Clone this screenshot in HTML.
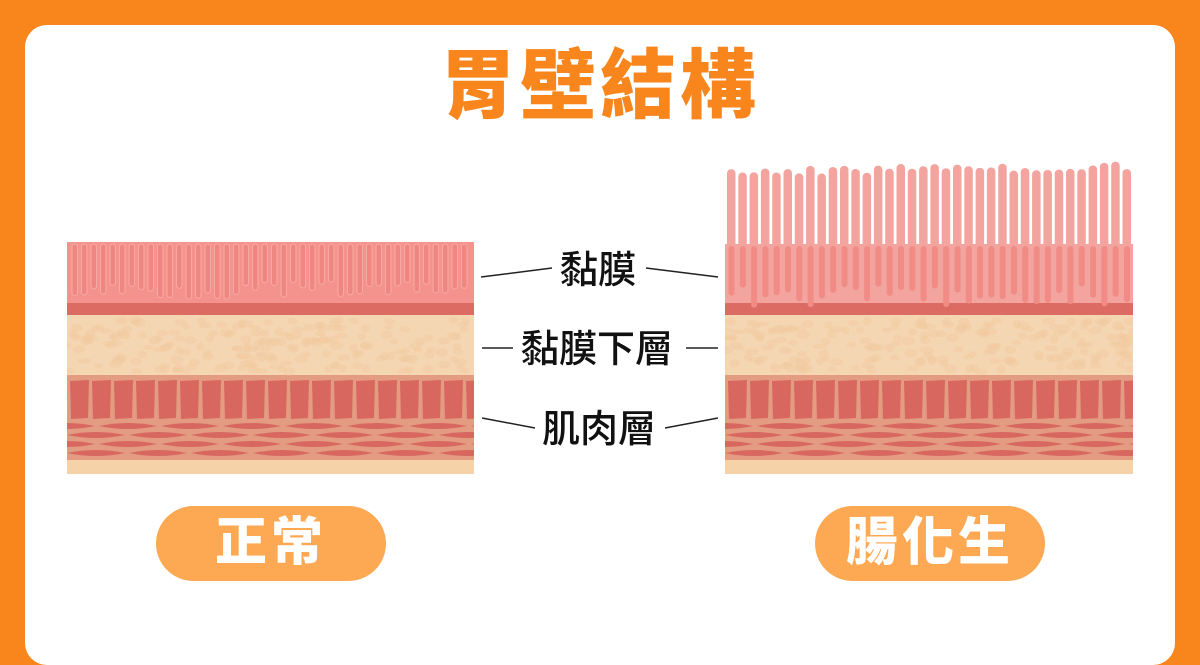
<!DOCTYPE html>
<html><head><meta charset="utf-8"><style>
html,body{margin:0;padding:0}
body{width:1200px;height:628px;background:#F8861C;position:relative;overflow:hidden;font-family:"Liberation Sans","Noto Sans CJK TC",sans-serif}
.card{position:absolute;left:25px;top:25px;width:1150px;height:640px;background:#fff;border-radius:22px}
.title{position:absolute;left:0;width:1200px;top:42px;text-align:center;font-size:76px;font-weight:900;color:#F8861C;letter-spacing:4px;line-height:90px}
.lbl{position:absolute;font-size:38px;font-weight:500;color:#111;line-height:40px;white-space:nowrap}
.pill{position:absolute;top:506px;height:75px;width:230px;border-radius:38px;background:#FDA852;color:#fff;font-size:52px;font-weight:900;text-align:center;line-height:75px;letter-spacing:4px}
svg{position:absolute;left:0;top:0}
</style></head><body>
<div class="card"></div>
<div class="title">胃壁結構</div>
<svg width="1200" height="628" id="s">
<defs>
<clipPath id="cl"><rect x="67" y="230" width="407" height="250"/></clipPath>
<clipPath id="cr"><rect x="725" y="150" width="408" height="330"/></clipPath>
</defs>
<g id="L" clip-path="url(#cl)">
<rect x="67" y="242" width="407" height="62" fill="#F4938E"/>
<rect x="67" y="303" width="407" height="13" fill="#DC6B64"/>
<rect x="67" y="315" width="407" height="61" fill="#F5D6B2"/>
<rect x="67" y="375" width="407" height="86" fill="#E39B82"/>
<rect x="67" y="460" width="407" height="14" fill="#F5D2A8"/>
</g>
<g id="R" clip-path="url(#cr)">
<rect x="725" y="244" width="408" height="60" fill="#F4A49E"/>
<rect x="725" y="303" width="408" height="13" fill="#DC6B64"/>
<rect x="725" y="315" width="408" height="61" fill="#F5D6B2"/>
<rect x="725" y="375" width="408" height="86" fill="#E39B82"/>
<rect x="725" y="460" width="408" height="14" fill="#F5D2A8"/>
</g>
<g stroke="#222" stroke-width="1.5">
<line x1="481" y1="277" x2="552" y2="268"/><line x1="646" y1="268" x2="718" y2="277"/>
<line x1="482" y1="348" x2="513" y2="348"/><line x1="686" y1="348" x2="718" y2="348"/>
<line x1="482" y1="418" x2="535" y2="428"/><line x1="665" y1="428" x2="718" y2="418"/>
</g>
</svg>
<div class="lbl" style="left:560px;top:251px">黏膜</div>
<div class="lbl" style="left:521px;top:330px">黏膜下層</div>
<div class="lbl" style="left:542px;top:410px">肌肉層</div>
<div class="pill" style="left:156px">正常</div>
<div class="pill" style="left:815px">腸化生</div>
<script>
var ns="http://www.w3.org/2000/svg";
function el(p,t,a){var e=document.createElementNS(ns,t);for(var k in a)e.setAttribute(k,a[k]);p.appendChild(e);return e;}
var seed=7;function r(){seed=(seed*9301+49297)%233280;return seed/233280;}
function layers(x0,w,g){
 for(var i=0;i<200;i++){el(g,'ellipse',{cx:x0+r()*w,cy:320+r()*52,rx:4+r()*3,ry:2.5+r()*2,fill:'#F1C9A0',opacity:0.5});}
 for(var x=x0+3;x<x0+w-6;x+=22){el(g,'path',{d:'M'+x+' 381 L'+(x+19)+' 380 L'+(x+18)+' 418 L'+(x+1)+' 419 Z',fill:'#D8685F'});}
 for(var row=0;row<4;row++){var y=426+row*9;for(var x=x0-30+(row%2)*30;x<x0+w;x+=62){
  var x1=x,x2=x+58;
  el(g,'path',{d:'M'+x1+' '+y+' Q'+((x1+x2)/2)+' '+(y-6)+' '+x2+' '+y+' Q'+((x1+x2)/2)+' '+(y+6)+' '+x1+' '+y,fill:'#D8685F'});}}
}
var L=document.getElementById('L'),R=document.getElementById('R');
layers(67,407,L);layers(725,408,R);
for(var x=72;x<470;x+=9.5){var h=38+r()*18;el(L,'rect',{x:x,y:244,width:5.5,height:h,rx:2.7,fill:'#F08682',stroke:'#F7A9A3','stroke-width':1});}
for(var x=727;x<1130;x+=11.3){var t=166+r()*10-((x-727)/400)*5;el(R,'rect',{x:x,y:t,width:8.5,height:250-t,rx:4,fill:'#F4A49E'});
 el(R,'rect',{x:x+1.5,y:246,width:6,height:40+r()*22,rx:3,fill:'#F08B85'});}
</script>
</body></html>
